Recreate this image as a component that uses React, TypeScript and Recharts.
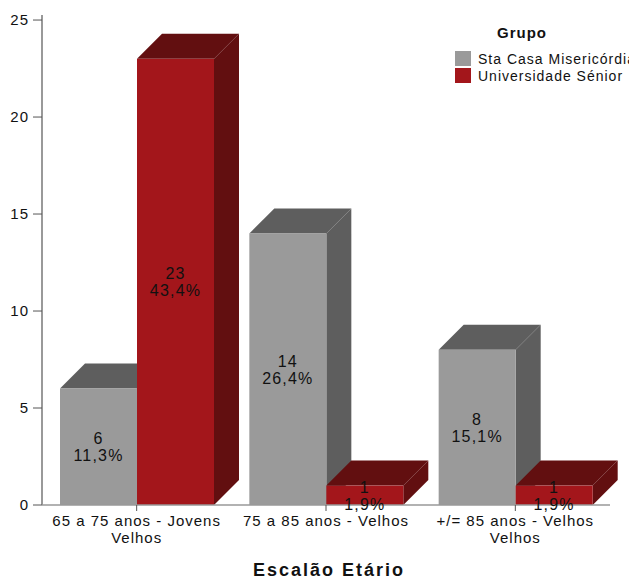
import React from "react";
import { BarChart, Bar, XAxis, YAxis, LabelList, Text } from "recharts";

const categories = [
  "65 a 75 anos - Jovens Velhos",
  "75 a 85 anos - Velhos",
  "+/= 85 anos - Velhos Velhos",
];
const staCasa = [6, 14, 8];
const universidade = [23, 1, 1];
const yTicks = [0, 5, 10, 15, 20, 25];

const total = [...staCasa, ...universidade].reduce((a, b) => a + b, 0);

const data = categories.map((name, i) => ({
  name,
  staCasa: staCasa[i],
  universidade: universidade[i],
}));

const FONT = "'Liberation Sans', Arial, sans-serif";
const DEPTH = 25;

const GRAY = "#9a9a9a";
const GRAY_DARK = "#5e5e5e";
const RED = "#a3161b";
const RED_DARK = "#620f10";

// front face plus a top and right side to fake the 3D look
const Bar3D = (props: any) => {
  const { x, y, width, height, fill, dark } = props;
  if (width == null || height == null) return null;
  const d = DEPTH;
  const side = `${x + width},${y} ${x + width + d},${y - d} ${x + width + d},${y + height - d} ${x + width},${y + height}`;
  const top = `${x},${y} ${x + d},${y - d} ${x + width + d},${y - d} ${x + width},${y}`;
  return (
    <g>
      <polygon points={side} fill={dark} />
      <polygon points={top} fill={dark} />
      <rect x={x} y={y} width={width} height={height} fill={fill} />
    </g>
  );
};

const renderValueLabel = (props: any) => {
  const { x, y, width, height, value } = props;
  const cx = x + width / 2;
  const cy = y + height / 2;
  const pct = ((value / total) * 100).toFixed(1).replace(".", ",") + "%";
  return (
    <g fontFamily={FONT} fontSize={16} letterSpacing={1.2} fill="#111">
      <text x={cx} y={cy - 8} textAnchor="middle" dominantBaseline="central">
        {value}
      </text>
      <text x={cx} y={cy + 9} textAnchor="middle" dominantBaseline="central">
        {pct}
      </text>
    </g>
  );
};

const tickStyle = { fontFamily: FONT, fontSize: 15, letterSpacing: 1 };

const renderXTick = (props: any) => {
  const { x, y, payload } = props;
  return (
    <Text
      x={x}
      y={y}
      width={185}
      textAnchor="middle"
      verticalAnchor="start"
      lineHeight={17}
      style={tickStyle}
      fill="#111"
    >
      {payload.value}
    </Text>
  );
};

const renderXTitle = (props: any) => {
  const { viewBox } = props;
  const cx = viewBox.x + viewBox.width / 2 + 3;
  return (
    <text
      x={cx}
      y={576}
      textAnchor="middle"
      fontFamily={FONT}
      fontSize={18}
      fontWeight="bold"
      letterSpacing={2}
      fill="#111"
    >
      Escalão Etário
    </text>
  );
};

const legendItems = [
  { label: "Sta Casa Misericórdia", color: GRAY },
  { label: "Universidade Sénior", color: RED },
];

export default function App() {
  return (
    <div
      style={{
        position: "absolute",
        left: 0,
        top: 0,
        width: 629,
        height: 579,
        overflow: "hidden",
        background: "#fff",
      }}
    >
      <BarChart
        width={629}
        height={579}
        data={data}
        margin={{ top: 15, right: 19, left: 0, bottom: 0 }}
        barCategoryGap={18}
        barGap={0}
      >
        <YAxis
          width={42}
          domain={[0, 25.26]}
          ticks={yTicks}
          allowDataOverflow
          axisLine={{ stroke: "#999", strokeWidth: 2 }}
          tickLine={{ stroke: "#555" }}
          tickSize={9}
          tickMargin={4}
          tick={{ ...tickStyle, fill: "#111" }}
        />
        <XAxis
          dataKey="name"
          height={74}
          axisLine={{ stroke: "#999", strokeWidth: 1.5 }}
          tickLine={{ stroke: "#555" }}
          tickSize={6}
          tickMargin={4}
          interval={0}
          tick={renderXTick}
          label={renderXTitle}
        />
        <Bar
          dataKey="staCasa"
          fill={GRAY}
          isAnimationActive={false}
          shape={(p: any) => <Bar3D {...p} dark={GRAY_DARK} />}
        >
          <LabelList dataKey="staCasa" content={renderValueLabel} />
        </Bar>
        <Bar
          dataKey="universidade"
          fill={RED}
          isAnimationActive={false}
          shape={(p: any) => <Bar3D {...p} dark={RED_DARK} />}
        >
          <LabelList dataKey="universidade" content={renderValueLabel} />
        </Bar>
      </BarChart>

      <div
        style={{
          position: "absolute",
          left: 455,
          top: 24,
          fontFamily: FONT,
          fontSize: 14,
          letterSpacing: 1,
          color: "#111",
          whiteSpace: "nowrap",
        }}
      >
        <div
          style={{
            fontWeight: "bold",
            fontSize: 15,
            marginLeft: 42,
            marginBottom: 8,
            lineHeight: "18px",
          }}
        >
          Grupo
        </div>
        {legendItems.map((item) => (
          <div
            key={item.label}
            style={{ display: "flex", alignItems: "center", height: 17 }}
          >
            <span
              style={{
                display: "inline-block",
                width: 16,
                height: 15,
                background: item.color,
                marginRight: 7,
              }}
            />
            {item.label}
          </div>
        ))}
      </div>
    </div>
  );
}
